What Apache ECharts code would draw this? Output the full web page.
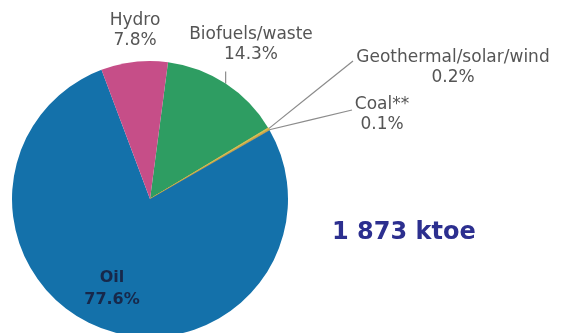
<!DOCTYPE html>
<html>
<head>
<meta charset="utf-8">
<script src="https://cdn.jsdelivr.net/npm/echarts@6/dist/echarts.min.js"></script>
<style>
  html, body { margin: 0; padding: 0; background: #fff; }
  #chart { width: 562px; height: 333px; }
</style>
</head>
<body>
<div id="chart"></div>
<script>
// Energy supply shares (%), clockwise from the top of the pie
const categories = ['Biofuels/waste', 'Geothermal/solar/wind', 'Coal**', 'Oil', 'Hydro'];
const shares = [14.3, 0.2, 0.1, 77.6, 7.8];
const totalSupply = '1 873 ktoe';

const sliceColors = {
  'Biofuels/waste': '#2e9d62',
  'Geothermal/solar/wind': '#d6bb4e',
  'Coal**': '#c9a24a',
  'Oil': '#1471aa',
  'Hydro': '#c64e88'
};

// Where each label block sits (centre of the text block)
const labelSpots = {
  'Hydro': { x: 135, y: 31 },
  'Biofuels/waste': { x: 251, y: 45 },
  'Geothermal/solar/wind': { x: 453, y: 68 },
  'Coal**': { x: 382, y: 115 },
  'Oil': { x: 112, y: 289 }
};

const baseFont = 'DejaVu Sans';

const pieData = categories.map((name, i) => {
  const item = { name: name, value: shares[i], itemStyle: { color: sliceColors[name] } };
  if (name === 'Oil') {
    item.label = { position: 'inside', color: '#17284a', fontWeight: 'bold', fontSize: 16, lineHeight: 22 };
    item.labelLine = { show: false };
  }
  if (name === 'Hydro') {
    item.labelLine = { show: false };
  }
  if (name === 'Geothermal/solar/wind' || name === 'Coal**') {
    // the thin slices get an outline so they stay visible as a golden seam
    item.itemStyle.borderColor = sliceColors[name];
    item.itemStyle.borderWidth = 1;
  }
  return item;
});

const chart = echarts.init(document.getElementById('chart'), null, { renderer: 'canvas' });

chart.setOption({
  animation: false,
  backgroundColor: '#ffffff',
  series: [{
    type: 'pie',
    center: [150, 199],
    radius: [0, 138],
    startAngle: 82.5,
    clockwise: true,
    avoidLabelOverlap: false,
    data: pieData,
    label: {
      show: true,
      position: 'outside',
      formatter: '{b}\n{c}%',
      fontFamily: baseFont,
      fontSize: 17,
      lineHeight: 20,
      color: '#555555',
      align: 'center'
    },
    labelLine: {
      show: true,
      lineStyle: { color: '#8c8c8c', width: 1.2 }
    },
    labelLayout: function (params) {
      const name = categories[params.dataIndex];
      const spot = labelSpots[name];
      const out = { x: spot.x, y: spot.y, align: 'center', verticalAlign: 'middle' };
      const pts = params.labelLinePoints;
      if (pts && pts.length) {
        const p0 = pts[0];
        if (name === 'Biofuels/waste') {
          out.labelLinePoints = [[p0[0], p0[1]], [p0[0], p0[1] - 6], [p0[0], p0[1] - 12]];
        } else if (name === 'Geothermal/solar/wind') {
          const end = [353, 61];
          out.labelLinePoints = [[p0[0], p0[1]], [(p0[0] + end[0]) / 2, (p0[1] + end[1]) / 2], end];
        } else if (name === 'Coal**') {
          const end = [352, 110];
          out.labelLinePoints = [[p0[0], p0[1]], [(p0[0] + end[0]) / 2, (p0[1] + end[1]) / 2], end];
        }
      }
      return out;
    }
  }],
  graphic: [{
    type: 'text',
    left: 332,
    top: 221,
    style: {
      text: totalSupply,
      fontFamily: baseFont,
      fontWeight: 'bold',
      fontSize: 24,
      fill: '#2c2f8f'
    }
  }]
});
</script>
</body>
</html>
